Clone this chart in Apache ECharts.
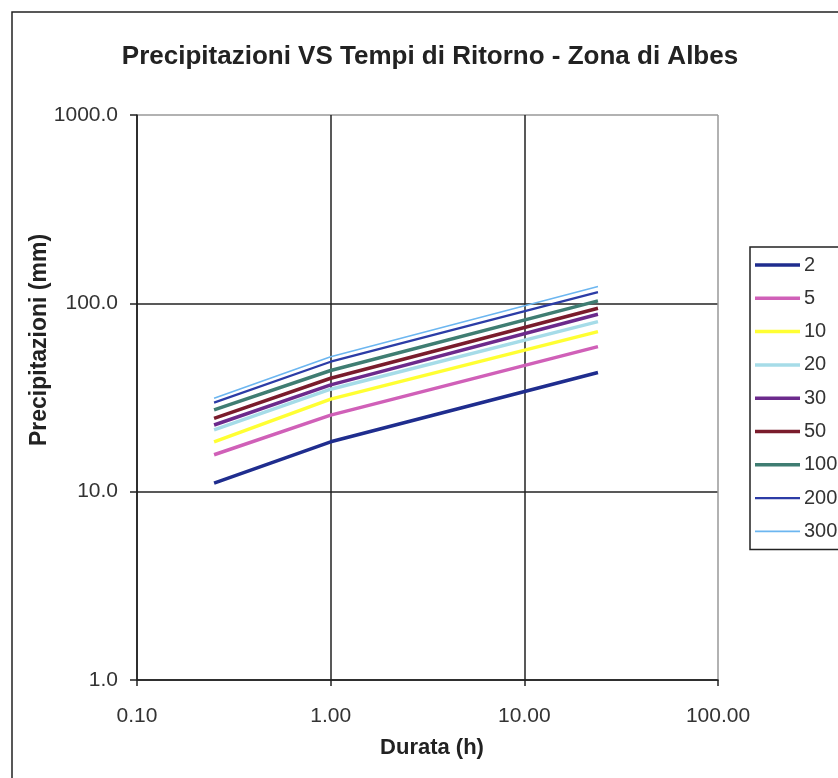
<!DOCTYPE html>
<html><head><meta charset="utf-8">
<script src="https://cdn.jsdelivr.net/npm/echarts@6/dist/echarts.min.js"></script>
<style>html,body{margin:0;padding:0;background:#fff}#c{width:838px;height:778px}</style>
</head><body><div id="c"></div>
<script>
const durations = [0.25, 1, 24];
const returnPeriods = ['2','5','10','20','30','50','100','200','300'];
const s2   = [11.1, 18.4, 42.9];
const s5   = [15.7, 25.5, 58.9];
const s10  = [18.4, 31.0, 70.8];
const s20  = [21.3, 35.0, 80.0];
const s30  = [22.6, 36.9, 87.5];
const s50  = [24.5, 40.0, 94.2];
const s100 = [27.2, 44.0, 103];
const s200 = [29.7, 49.0, 114.6];
const s300 = [31.3, 52.1, 122.7];
const yTicks = ['1.0','10.0','100.0','1000.0'];
const xTicks = ['0.10','1.00','10.00','100.00'];

const seriesValues = [s2,s5,s10,s20,s30,s50,s100,s200,s300];
const colors = ['#1f2d8e','#d060b8','#ffff33','#a6dce8','#6c2a8c','#7a1c2c','#3f7d72','#2c3ca6','#6cb6f0'];
const widths = [3.5,3.5,3.5,3.5,3.5,3.5,3.5,2.2,1.6];
const font = 'Liberation Sans, Arial, sans-serif';

const chart = echarts.init(document.getElementById('c'));
chart.setOption({
  animation:false,
  backgroundColor:'#fff',
  textStyle:{fontFamily:font},
  grid:{left:137, right:120, top:115, bottom:98},
  xAxis:{type:'log', logBase:10, min:0.1, max:100,
    axisLine:{show:true, onZero:false, lineStyle:{color:'#222', width:1.5}},
    axisTick:{show:true, length:6, inside:false, lineStyle:{color:'#222', width:1.5}},
    minorTick:{show:false},
    splitLine:{show:true, lineStyle:{color:['#222','#222','#222','#999'], width:1.5}},
    axisLabel:{margin:26, fontSize:21, color:'#333', fontFamily:font,
      formatter:(v)=>{const i=Math.round(Math.log10(v))+1; return xTicks[i]!==undefined?xTicks[i]:v.toFixed(2);}}
  },
  yAxis:{type:'log', logBase:10, min:1, max:1000,
    axisLine:{show:true, onZero:false, lineStyle:{color:'#222', width:1.5}},
    axisTick:{show:true, length:7, inside:false, lineStyle:{color:'#222', width:1.5}},
    splitLine:{show:true, lineStyle:{color:['#222','#222','#222','#999'], width:1.5}},
    axisLabel:{margin:19, fontSize:21, color:'#333', fontFamily:font,
      formatter:(v)=>{const i=Math.round(Math.log10(v)); return yTicks[i]!==undefined?yTicks[i]:v.toFixed(1);}}
  },
  legend:{orient:'vertical', left:750, top:247,
    padding:[8,3,8,5], itemGap:13.3, itemWidth:45, itemHeight:20,
    borderColor:'#222', borderWidth:1.5, backgroundColor:'#fff',
    textStyle:{fontSize:20, lineHeight:20, color:'#333', fontFamily:font, padding:[0,0,0,-1]},
    data:returnPeriods.map((n,i)=>({name:n, icon:'path://M0,0 L45,0 L45,'+widths[i]+' L0,'+widths[i]+' Z'}))
  },
  graphic:[
    {type:'rect', shape:{x:12, y:12, width:840, height:790}, style:{fill:'none', stroke:'#222', lineWidth:1.5}, z:-1},
    {type:'text', x:430, y:57, style:{text:'Precipitazioni VS Tempi di Ritorno - Zona di Albes', font:'bold 26px '+font, fill:'#222', textAlign:'center', textVerticalAlign:'middle'}},
    {type:'text', x:40, y:340, rotation:Math.PI/2, style:{text:'Precipitazioni (mm)', font:'bold 23px '+font, fill:'#222', textAlign:'center', textVerticalAlign:'middle'}},
    {type:'text', x:432, y:748, style:{text:'Durata (h)', font:'bold 22px '+font, fill:'#222', textAlign:'center', textVerticalAlign:'middle'}}
  ],
  series: returnPeriods.map((n,i)=>({
    name:n, type:'line', symbol:'none', smooth:false,
    color:colors[i],
    lineStyle:{color:colors[i], width:widths[i]},
    data: durations.map((d,j)=>[d, seriesValues[i][j]])
  }))
});
</script></body></html>
